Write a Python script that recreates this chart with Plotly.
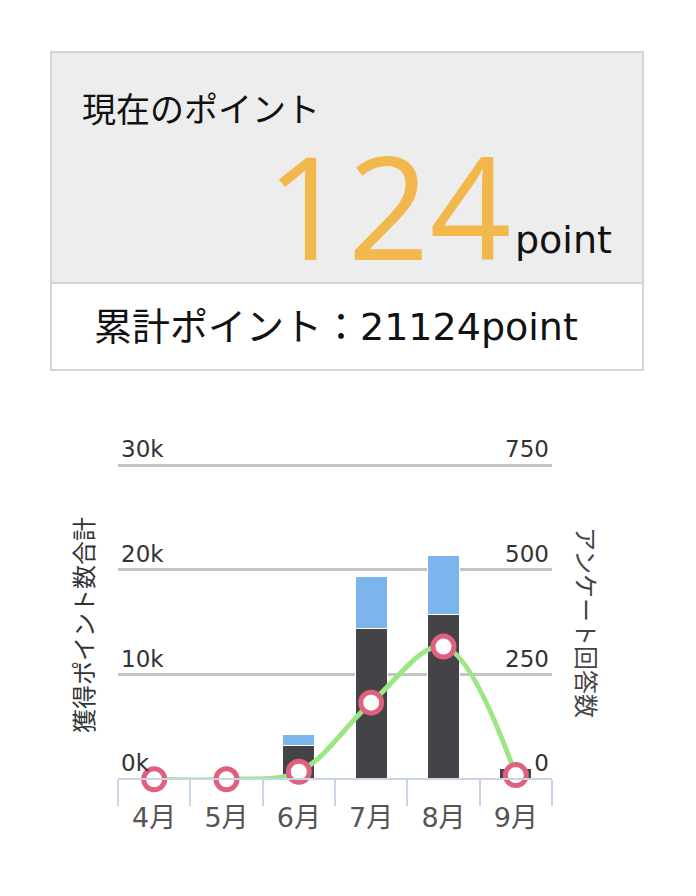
import plotly.graph_objects as go

## chart data
months = ["4月", "5月", "6月", "7月", "8月", "9月"]
points_base = [0, 0, 3200, 14400, 15700, 1050]
points_extra = [0, 0, 1050, 4950, 5650, 0]
answers = [0, 0, 18, 183, 317, 10]

left_ticks = [0, 10000, 20000, 30000]
left_labels = ["0k", "10k", "20k", "30k"]
right_ticks = [0, 250, 500, 750]
right_labels = ["0", "250", "500", "750"]

current_point = "124"
total_label = "累計ポイント：21124point"

W, H = 696, 896
JP = "Noto Sans CJK JP"
LATIN = "DejaVu Sans"

# plot area: y=0 at 779.3px, 30k / 750 at 465.3px; domain extends a bit higher for the top label
Y0, Y_TOP, DOM_TOP = 779.3, 465.3, 430.0
stretch = (Y0 - DOM_TOP) / (Y0 - Y_TOP)


def px(x):
    return x / W


def py(y):
    return 1 - y / H


fig = go.Figure()

fig.add_trace(go.Bar(x=months, y=points_base, marker=dict(color="#434348", line=dict(color="white", width=1)),
                     width=0.44, yaxis="y"))
fig.add_trace(go.Bar(x=months, y=points_extra, marker=dict(color="#7cb5ec", line=dict(color="white", width=1)),
                     width=0.44, yaxis="y"))
fig.add_trace(go.Scatter(x=months, y=answers, yaxis="y2", mode="lines+markers",
                         line=dict(color="#9de686", width=5, shape="spline", smoothing=1),
                         marker=dict(size=21, color="white", line=dict(color="#e0607e", width=5)),
                         cliponaxis=False))

fig.update_layout(
    width=W, height=H,
    margin=dict(l=0, r=0, t=0, b=0, autoexpand=False),
    paper_bgcolor="white", plot_bgcolor="white",
    barmode="stack", showlegend=False,
    font=dict(family=JP, color="#333"),
    xaxis=dict(domain=[px(118), px(552)], type="category", range=[-0.5, 5.5], tickson="boundaries",
               anchor="free", position=py(Y0), automargin=False,
               ticks="outside", ticklen=26, tickwidth=2, tickcolor="#c8d5e6",
               showline=True, linecolor="#c8d5e6", linewidth=2, showgrid=False, ticklabelstandoff=14,
               tickfont=dict(family=LATIN + ", " + JP, size=27, color="#555")),
    yaxis=dict(domain=[py(Y0), py(DOM_TOP)], range=[0, 30000 * stretch], tickvals=left_ticks,
               ticktext=left_labels, ticklabelposition="inside top", ticklabeloverflow="allow",
               automargin=False, showgrid=True, gridcolor="#c4c4c4", gridwidth=3,
               zeroline=False, tickfont=dict(family=LATIN, size=23, color="#333")),
    yaxis2=dict(overlaying="y", side="right", range=[0, 750 * stretch], tickvals=right_ticks,
                ticktext=right_labels, ticklabelposition="inside top", ticklabeloverflow="allow",
                automargin=False, showgrid=False, zeroline=False,
                tickfont=dict(family=LATIN, size=23, color="#333")),
)

## point summary boxes
fig.add_shape(type="rect", xref="paper", yref="paper", x0=px(51), x1=px(643), y0=py(283), y1=py(52),
              fillcolor="#ededed", line=dict(color="#d4d4d4", width=2), layer="below")
fig.add_shape(type="rect", xref="paper", yref="paper", x0=px(51), x1=px(643), y0=py(370), y1=py(283),
              fillcolor="white", line=dict(color="#d4d4d4", width=2), layer="below")

fig.add_annotation(xref="paper", yref="paper", x=px(80), y=py(107), xanchor="left", yanchor="middle",
                   text="現在のポイント", showarrow=False, font=dict(family=JP, size=34, color="#111"))
fig.add_annotation(xref="paper", yref="paper", x=px(513), y=py(205), xanchor="right", yanchor="middle",
                   text=current_point, showarrow=False,
                   font=dict(family="Open Sans", size=143, color="#f2b84e"))
fig.add_annotation(xref="paper", yref="paper", x=px(513), y=py(240), xanchor="left", yanchor="middle",
                   text="point", showarrow=False, font=dict(family=LATIN, size=38, color="#111"))
fig.add_annotation(xref="paper", yref="paper", x=px(336), y=py(327), xanchor="center", yanchor="middle",
                   text=total_label, showarrow=False, font=dict(family=LATIN + ", " + JP, size=38, color="#111"))

## axis titles
fig.add_annotation(xref="paper", yref="paper", x=px(82), y=py(625), xanchor="center", yanchor="middle",
                   text="獲得ポイント数合計", textangle=-90, showarrow=False,
                   font=dict(family=JP, size=24, color="#333"))
fig.add_annotation(xref="paper", yref="paper", x=px(588), y=py(622), xanchor="center", yanchor="middle",
                   text="アンケート回答数", textangle=90, showarrow=False,
                   font=dict(family=JP, size=24, color="#444"))

fig.write_html("out.html", config={"displayModeBar": False},
               post_script="document.body.style.margin='0';")
